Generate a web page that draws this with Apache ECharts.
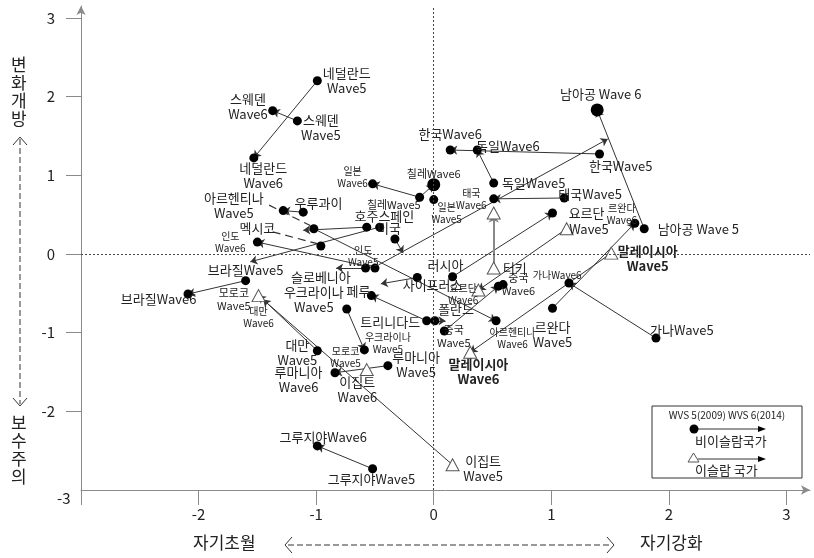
<!DOCTYPE html>
<html>
<head>
<meta charset="utf-8">
<script src="https://cdn.jsdelivr.net/npm/echarts@6/dist/echarts.min.js"></script>
<style>
html, body { margin: 0; padding: 0; background: #fff; }
#chart { width: 814px; height: 558px; }
</style>
</head>
<body>
<div id="chart"></div>
<script>
// WVS 5(2009) -> WVS 6(2014) 국가별 위치 (x: 자기초월~자기강화, y: 보수주의~변화개방)
const axisTicks = [-3, -2, -1, 0, 1, 2, 3]

// 비이슬람 국가 ●
const dots = [
  [-0.99, 2.20], [-1.53, 1.22], [-1.16, 1.69], [-1.37, 1.82],
  [1.41, 1.27], [0.14, 1.32], [0.51, 0.90], [0.37, 1.32],
  [1.11, 0.71], [0.51, 0.70], [1.79, 0.32], [0.00, 0.69],
  [-0.52, 0.89], [-0.12, 0.72], [-1.11, 0.53], [-1.28, 0.55],
  [-1.02, 0.32], [0.53, -0.85], [-0.96, 0.10], [-0.57, 0.34],
  [-0.46, 0.34], [-0.33, 0.19], [-0.50, -0.18], [-1.50, 0.15],
  [-0.58, -0.18], [-1.60, -0.34], [-2.09, -0.51], [-0.74, -0.70],
  [-0.59, -1.22], [-0.99, -1.23], [-0.39, -1.42], [-0.84, -1.51],
  [0.09, -0.98], [0.55, -0.41], [0.59, -0.39], [1.01, -0.69],
  [1.71, 0.39], [1.89, -1.07], [1.15, -0.37], [-0.52, -2.73],
  [-0.99, -2.44], [-0.06, -0.85], [0.01, -0.85], [-0.53, -0.53],
  [-0.14, -0.30], [0.16, -0.29], [1.01, 0.52]
]
// 큰 점 (남아공 Wave6, 칠레 Wave6)
const bigDots = [[1.39, 1.83], [0.00, 0.88]]

// 이슬람 국가 △
const triangles = [
  [0.51, -0.18], [0.51, 0.52], [1.13, 0.32], [0.38, -0.46],
  [1.51, 0.01], [0.31, -1.25], [0.16, -2.68], [-1.49, -0.53],
  [-0.57, -1.47]
]

// Wave5 -> Wave6 이동 [x5, y5, x6, y6]
const moves = [
  [-0.99, 2.20, -1.53, 1.22],   // 네덜란드
  [-1.16, 1.69, -1.37, 1.82],   // 스웨덴
  [1.41, 1.27, 0.14, 1.32],     // 한국
  [0.51, 0.90, 0.37, 1.32],     // 독일
  [1.11, 0.71, 0.51, 0.70],     // 태국
  [1.79, 0.32, 1.39, 1.83],     // 남아공
  [-0.12, 0.72, -0.52, 0.89],   // 일본
  [-0.12, 0.72, 0.00, 0.88],    // 칠레
  [-1.11, 0.53, -1.28, 0.55],   // 우루과이
  [-1.02, 0.32, 0.53, -0.85],   // 아르헨티나
  [-0.57, 0.34, -1.11, 0.30],   // 호주
  [-0.46, 0.34, -1.56, -0.10],  // 스페인
  [-0.33, 0.19, -0.26, 0.01],   // 미국
  [-0.50, -0.18, -1.50, 0.15],  // 인도
  [-0.58, -0.18, -0.83, -0.18], // 슬로베니아
  [-0.47, -0.14, 1.48, 1.46],
  [-1.60, -0.34, -2.09, -0.51], // 브라질
  [-0.74, -0.70, -0.59, -1.22], // 우크라이나
  [-0.99, -1.23, -1.45, -0.58], // 대만
  [-0.39, -1.42, -0.84, -1.51], // 루마니아
  [0.09, -0.98, 0.55, -0.41],   // 중국
  [1.01, -0.69, 1.71, 0.39],    // 르완다
  [1.89, -1.07, 1.15, -0.37],   // 가나
  [-0.52, -2.73, -0.99, -2.44], // 그루지야
  [-0.06, -0.85, -0.53, -0.53], // 페루
  [0.01, -0.85, 0.10, -0.85],   // 폴란드
  [-0.14, -0.30, -0.45, -0.38], // 사이프러스
  [0.16, -0.29, 1.01, 0.52],    // 러시아
  [1.13, 0.32, 0.38, -0.46],    // 요르단
  [1.51, 0.01, 0.31, -1.25],    // 말레이시아
  [0.16, -2.68, -1.49, -0.53]   // 이집트
]
const turkeyMove = [0.51, -0.18, 0.51, 0.50]

// 라벨 지시선 (점선)
const leaders = [
  [-1.40, 0.62, -1.05, 0.36],   // 아르헨티나
  [-1.37, 0.28, -0.99, 0.13]    // 멕시코
]

// [라벨, x, y, 종류]  n: 보통, s: 작게, m: 중간, b: 굵게
const labels = [
  ['네덜란드\nWave5', -0.74, 2.20, 'n'],
  ['네덜란드\nWave6', -1.45, 1.00, 'n'],
  ['스웨덴\nWave6', -1.58, 1.87, 'n'],
  ['스웨덴\nWave5', -0.96, 1.60, 'n'],
  ['한국Wave6', 0.14, 1.52, 'n'],
  ['독일Wave6', 0.63, 1.37, 'n'],
  ['한국Wave5', 1.59, 1.12, 'n'],
  ['남아공 Wave 6', 1.42, 2.03, 'n'],
  ['독일Wave5', 0.85, 0.90, 'n'],
  ['태국Wave5', 1.33, 0.76, 'n'],
  ['태국\nWave6', 0.32, 0.69, 's'],
  ['요르단', 1.30, 0.52, 'n'],
  ['Wave5', 1.32, 0.32, 'n'],
  ['르완다\nWave6', 1.60, 0.51, 's'],
  ['남아공 Wave 5', 2.25, 0.32, 'n'],
  ['말레이시아\nWave5', 1.82, -0.06, 'b'],
  ['칠레Wave6', 0.00, 1.02, 'm'],
  ['일본\nWave6', -0.69, 0.98, 's'],
  ['칠레Wave5', -0.34, 0.62, 'm'],
  ['일본\nWave5', 0.11, 0.52, 's'],
  ['아르헨티나\nWave5', -1.70, 0.62, 'n'],
  ['우루과이', -0.98, 0.64, 'n'],
  ['호주스페인', -0.42, 0.48, 'n'],
  ['미국', -0.38, 0.33, 'n'],
  ['멕시코', -1.50, 0.33, 'n'],
  ['인도\nWave6', -1.73, 0.15, 's'],
  ['인도\nWave5', -0.60, -0.03, 's'],
  ['브라질Wave5', -1.60, -0.20, 'n'],
  ['브라질Wave6', -2.34, -0.57, 'n'],
  ['슬로베니아', -0.96, -0.30, 'n'],
  ['우크라이나\nWave5', -1.02, -0.58, 'n'],
  ['페루', -0.64, -0.47, 'n'],
  ['사이프러스', -0.01, -0.39, 'n'],
  ['러시아', 0.10, -0.14, 'n'],
  ['터키', 0.69, -0.18, 'n'],
  ['중국\nWave6', 0.72, -0.39, 'm'],
  ['요르단\nWave6', 0.25, -0.51, 's'],
  ['가나Wave6', 1.05, -0.27, 's'],
  ['폴란드', 0.19, -0.70, 'n'],
  ['트리니다드', -0.37, -0.86, 'n'],
  ['중국\nWave5', 0.17, -1.05, 'm'],
  ['아르헨티나\nWave6', 0.67, -1.07, 's'],
  ['르완다\nWave5', 1.01, -1.02, 'n'],
  ['가나Wave5', 2.11, -0.97, 'n'],
  ['말레이시아\nWave6', 0.38, -1.50, 'b'],
  ['모로코\nWave5', -1.70, -0.58, 'm'],
  ['대만\nWave6', -1.49, -0.80, 's'],
  ['대만\nWave5', -1.16, -1.25, 'n'],
  ['우크라이나\nWave5', -0.39, -1.13, 's'],
  ['모로코\nWave5', -0.75, -1.31, 's'],
  ['루마니아\nWave5', -0.15, -1.41, 'n'],
  ['루마니아\nWave6', -1.15, -1.60, 'n'],
  ['이집트\nWave6', -0.65, -1.72, 'n'],
  ['그루지야Wave6', -0.94, -2.33, 'n'],
  ['그루지야Wave5', -0.53, -2.86, 'n'],
  ['이집트\nWave5', 0.42, -2.73, 'n']
]

const FONT = '"Noto Sans CJK KR", "Noto Sans", sans-serif'
const labelStyles = {
  n: { fontSize: 13, lineHeight: 15, fontWeight: 'normal' },
  s: { fontSize: 10, lineHeight: 12, fontWeight: 'normal' },
  m: { fontSize: 11, lineHeight: 13, fontWeight: 'normal' },
  b: { fontSize: 13, lineHeight: 15, fontWeight: 'bold' }
}

const chart = echarts.init(document.getElementById('chart'))

const toLine = m => ({ coords: [[m[0], m[1]], [m[2], m[3]]] })

const option = {
  animation: false,
  textStyle: { fontFamily: FONT },
  grid: { left: 81, right: 4, top: 6, bottom: 68 },
  xAxis: {
    type: 'value',
    min: -3,
    max: 3.2,
    interval: 1,
    splitLine: { show: false },
    axisLine: {
      show: true,
      onZero: false,
      symbol: ['none', 'arrow'],
      symbolSize: [7, 9],
      lineStyle: { color: '#8a8a8a', width: 1 }
    },
    axisTick: {
      show: true,
      length: 15,
      customValues: axisTicks,
      lineStyle: { color: '#8a8a8a' }
    },
    axisLabel: {
      margin: 17,
      fontSize: 15,
      color: '#222',
      customValues: axisTicks.filter(v => v > -3),
      formatter: v => String(v)
    }
  },
  yAxis: {
    type: 'value',
    min: -3,
    max: 3.15,
    interval: 1,
    splitLine: { show: false },
    axisLine: {
      show: true,
      onZero: false,
      symbol: ['none', 'arrow'],
      symbolSize: [7, 9],
      lineStyle: { color: '#8a8a8a', width: 1 }
    },
    axisTick: {
      show: true,
      length: 15,
      customValues: axisTicks.filter(v => v > -3),
      lineStyle: { color: '#8a8a8a' }
    },
    axisLabel: {
      margin: 26,
      fontSize: 15,
      color: '#222',
      customValues: axisTicks.filter(v => v > -3),
      formatter: v => String(v)
    }
  },
  series: [
    {
      type: 'lines',
      coordinateSystem: 'cartesian2d',
      z: 2,
      symbol: ['none', 'arrow'],
      symbolSize: 7,
      lineStyle: { color: '#333', width: 1, opacity: 1 },
      data: moves.map(toLine)
    },
    {
      type: 'lines',
      coordinateSystem: 'cartesian2d',
      z: 2,
      symbol: ['none', 'arrow'],
      symbolSize: 8,
      lineStyle: { color: '#888', width: 2, opacity: 1 },
      data: [toLine(turkeyMove)]
    },
    {
      type: 'lines',
      coordinateSystem: 'cartesian2d',
      z: 2,
      symbol: 'none',
      lineStyle: { color: '#333', width: 1.2, type: [8, 5], opacity: 1 },
      data: leaders.map(toLine)
    },
    {
      type: 'scatter',
      z: 3,
      symbol: 'circle',
      symbolSize: 9,
      itemStyle: { color: '#000', opacity: 1 },
      data: dots,
      markLine: {
        silent: true,
        symbol: 'none',
        label: { show: false },
        lineStyle: { color: '#444', type: [2, 2], width: 1 },
        data: [{ xAxis: 0 }, { yAxis: 0 }]
      }
    },
    {
      type: 'scatter',
      z: 3,
      symbol: 'circle',
      symbolSize: 13,
      itemStyle: { color: '#000', opacity: 1 },
      data: bigDots
    },
    {
      type: 'scatter',
      z: 3,
      symbol: 'triangle',
      symbolSize: [13, 12],
      itemStyle: { color: '#fff', borderColor: '#555', borderWidth: 1, opacity: 1 },
      data: triangles
    },
    {
      type: 'scatter',
      z: 4,
      silent: true,
      symbolSize: 1,
      itemStyle: { color: 'rgba(0,0,0,0)', opacity: 1 },
      data: labels.map(l => ({
        value: [l[1], l[2]],
        name: l[0],
        label: {
          show: true,
          position: 'inside',
          formatter: '{b}',
          color: '#222',
          fontFamily: FONT,
          align: 'center',
          verticalAlign: 'middle',
          ...labelStyles[l[3]]
        }
      }))
    }
  ],
  graphic: [
    // y축 -3 라벨
    { type: 'text', left: 57, top: 491, style: { text: '-3', font: '15px ' + FONT, fill: '#222' } },
    // y축 제목
    { type: 'text', left: 11, top: 56, style: { text: '변\n화\n개\n방', font: '17px ' + FONT, lineHeight: 18, fill: '#222' } },
    { type: 'polyline', shape: { points: [[13, 145], [20, 137], [27, 145]] }, style: { stroke: '#333', lineWidth: 1, fill: null } },
    { type: 'line', shape: { x1: 20, y1: 139, x2: 20, y2: 404 }, style: { stroke: '#333', lineWidth: 1, lineDash: [6, 3] } },
    { type: 'polyline', shape: { points: [[13, 398], [20, 406], [27, 398]] }, style: { stroke: '#333', lineWidth: 1, fill: null } },
    { type: 'text', left: 11, top: 414, style: { text: '보\n수\n주\n의', font: '17px ' + FONT, lineHeight: 18, fill: '#222' } },
    // x축 제목
    { type: 'text', left: 193, top: 534, style: { text: '자기초월', font: '17px ' + FONT, fill: '#222' } },
    { type: 'polyline', shape: { points: [[292, 537], [285, 545], [292, 553]] }, style: { stroke: '#333', lineWidth: 1, fill: null } },
    { type: 'line', shape: { x1: 288, y1: 545, x2: 612, y2: 545 }, style: { stroke: '#333', lineWidth: 1, lineDash: [6, 3] } },
    { type: 'polyline', shape: { points: [[607, 537], [614, 545], [607, 553]] }, style: { stroke: '#333', lineWidth: 1, fill: null } },
    { type: 'text', left: 640, top: 534, style: { text: '자기강화', font: '17px ' + FONT, fill: '#222' } },
    // 범례
    { type: 'rect', shape: { x: 652, y: 406, width: 150, height: 72 }, style: { fill: '#fff', stroke: '#333', lineWidth: 1 }, z: 10 },
    { type: 'text', x: 727, y: 415, z: 11, style: { text: 'WVS 5(2009) WVS 6(2014)', font: '10px ' + FONT, fill: '#222', align: 'center', verticalAlign: 'middle' } },
    { type: 'line', z: 11, shape: { x1: 694, y1: 429, x2: 760, y2: 429 }, style: { stroke: '#333', lineWidth: 1 } },
    { type: 'polygon', z: 11, shape: { points: [[758, 426], [766, 429], [758, 432]] }, style: { fill: '#000' } },
    { type: 'circle', z: 11, shape: { cx: 694, cy: 429, r: 4.5 }, style: { fill: '#000' } },
    { type: 'text', x: 695, y: 441, z: 11, style: { text: '비이슬람국가', font: '13px ' + FONT, fill: '#222', verticalAlign: 'middle' } },
    { type: 'line', z: 11, shape: { x1: 698, y1: 459, x2: 760, y2: 459 }, style: { stroke: '#333', lineWidth: 1 } },
    { type: 'polygon', z: 11, shape: { points: [[758, 456], [766, 459], [758, 462]] }, style: { fill: '#000' } },
    { type: 'polygon', z: 11, shape: { points: [[688, 462], [693.5, 453], [699, 462]] }, style: { fill: '#fff', stroke: '#555', lineWidth: 1 } },
    { type: 'text', x: 695, y: 470, z: 11, style: { text: '이슬람 국가', font: '13px ' + FONT, fill: '#222', verticalAlign: 'middle' } }
  ]
}

chart.setOption(option)
</script>
</body>
</html>
